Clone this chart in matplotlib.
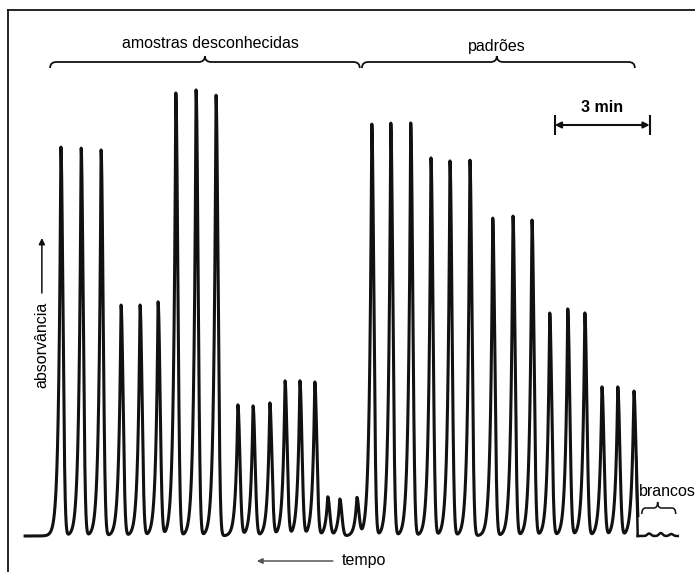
import numpy as np
import matplotlib.pyplot as plt
from matplotlib.path import Path
from matplotlib.patches import PathPatch

plt.rcParams['font.family'] = ['Liberation Sans', 'DejaVu Sans']

# peak positions along the chart (min) and peak heights (absorbance, arbitrary units)
sample_pos = [1.67, 2.31, 2.94, 3.57, 4.17, 4.74, 5.30, 5.94, 6.57,
              7.26, 7.74, 8.27, 8.75, 9.22, 9.69, 10.10, 10.48, 11.02]
sample_height = [3.89, 3.88, 3.86, 2.31, 2.31, 2.34, 4.43, 4.46, 4.41,
                 1.31, 1.30, 1.33, 1.55, 1.55, 1.54, 0.39, 0.37, 0.38]
standard_pos = [11.49, 12.09, 12.72, 13.36, 13.96, 14.59, 15.31, 15.95,
                16.55, 17.11, 17.68, 18.22, 18.76, 19.26, 19.77]
standard_height = [4.12, 4.13, 4.13, 3.78, 3.75, 3.76, 3.18, 3.20, 3.16,
                   2.23, 2.27, 2.23, 1.49, 1.49, 1.45]
blank_pos = [20.25, 20.62, 20.95]
blank_height = [0.025, 0.03, 0.02]

tau = 0.072   # tail width (min)
w = 0.09      # fall width (min)


def peak(t, p, h):
    y = np.where(t < p, h * np.exp(-(p - t) / tau), h * np.exp(-((t - p) / w) ** 2))
    return y


t = np.arange(0.54, 19.90, 0.004)
y = np.zeros_like(t)
for p, h in zip(sample_pos + standard_pos, sample_height + standard_height):
    y += peak(t, p, h)

tb = np.arange(19.89, 21.16, 0.004)
yb = np.zeros_like(tb)
for p, h in zip(blank_pos, blank_height):
    yb += h * np.exp(-((tb - p) / 0.08) ** 2)

fig = plt.figure(figsize=(6.95, 5.72), dpi=100)
ax = fig.add_axes([8 / 695, 0, 687 / 695, 562 / 572])
ax.plot(t, y, color='#111111', lw=2.2, solid_joinstyle='round')
ax.plot(tb, yb, color='#111111', lw=1.8)
ax.plot([19.84, 19.89], [peak(19.84, 19.77, 1.45), 0], color='#111111', lw=1.8)

ax.set_xlim(0, 21.7)
ax.set_ylim(-0.36, 5.26)
ax.set_xticks([])
ax.set_yticks([])
ax.spines['right'].set_visible(False)
ax.spines['bottom'].set_visible(False)
for s in ['left', 'top']:
    ax.spines[s].set_linewidth(1.2)


def brace(x0, x1, xm, yy, d, h, lw=1.3):
    verts = [(x0, yy - h), (x0, yy), (x0 + d, yy), (xm - d, yy), (xm, yy), (xm, yy + h),
             (xm, yy), (xm + d, yy), (x1 - d, yy), (x1, yy), (x1, yy - h)]
    codes = [Path.MOVETO, Path.CURVE3, Path.CURVE3, Path.LINETO, Path.CURVE3, Path.CURVE3,
             Path.CURVE3, Path.CURVE3, Path.LINETO, Path.CURVE3, Path.CURVE3]
    ax.add_patch(PathPatch(Path(verts, codes), fill=False, lw=lw, color='#111111'))


ax.text(6.38, 4.92, 'amostras desconhecidas', ha='center', va='center', fontsize=11.5)
brace(1.33, 11.11, 6.22, 4.74, 0.2, 0.06)
ax.text(15.44, 4.90, 'padrões', ha='center', va='center', fontsize=11.5)
brace(11.18, 19.80, 15.44, 4.74, 0.2, 0.06)

ax.text(18.76, 4.29, '3 min', ha='center', va='center', fontsize=11.5, fontweight='bold')
ax.annotate('', xy=(17.27, 4.11), xytext=(20.27, 4.11),
            arrowprops=dict(arrowstyle='<|-|>', lw=1.5, color='#111111',
                            shrinkA=0, shrinkB=0, mutation_scale=9))
ax.vlines([17.27, 20.27], 4.01, 4.21, color='#111111', lw=1.5)

ax.text(1.07, 1.91, 'absorvância', rotation=90, ha='center', va='center', fontsize=11.5)
ax.annotate('', xy=(1.07, 2.98), xytext=(1.07, 2.43),
            arrowprops=dict(arrowstyle='-|>', lw=1.1, color='#111111',
                            shrinkA=0, shrinkB=0, mutation_scale=9))

ax.text(11.24, -0.24, 'tempo', ha='center', va='center', fontsize=11.5)
ax.annotate('', xy=(7.86, -0.25), xytext=(10.26, -0.25),
            arrowprops=dict(arrowstyle='-|>', lw=1.1, color='#555555',
                            shrinkA=0, shrinkB=0, mutation_scale=8))

ax.text(19.92, 0.44, 'brancos', ha='left', va='center', fontsize=11.5)
brace(20.02, 21.09, 20.52, 0.28, 0.12, 0.06, lw=1.1)

fig.savefig('out.png', dpi=100)
